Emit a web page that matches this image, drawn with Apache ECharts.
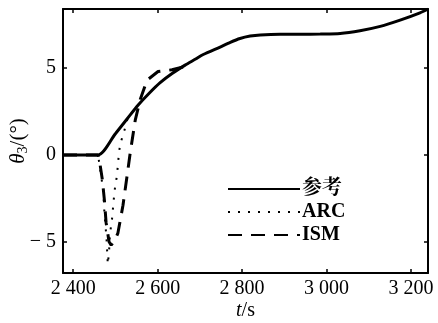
<!DOCTYPE html>
<html>
<head>
<meta charset="utf-8">
<script src="https://cdn.jsdelivr.net/npm/echarts@6/dist/echarts.min.js"></script>
<style>html,body{margin:0;padding:0;background:#fff}#c{width:438px;height:323px}</style>
</head>
<body>
<div id="c"></div>
<script>
// Reference curve
const tRef = [2376, 2459, 2500, 2528, 2554, 2580, 2606, 2635, 2665, 2690, 2708, 2748, 2772, 2795, 2819, 2843, 2890, 2937, 2985, 3032, 3079, 3127, 3174, 3221, 3240];
const vRef = [0, 0, 1.22, 2.08, 2.87, 3.55, 4.16, 4.7, 5.17, 5.52, 5.78, 6.21, 6.48, 6.7, 6.84, 6.91, 6.95, 6.95, 6.96, 6.99, 7.15, 7.4, 7.76, 8.18, 8.4];
// ARC
const tArc = [2376, 2459, 2471, 2474, 2479, 2482, 2485, 2487, 2492, 2496, 2499, 2503, 2506, 2508, 2511, 2518, 2523, 2530];
const vArc = [0, 0, -2.0, -3.3, -4.8, -6.3, -5.6, -4.6, -3.7, -2.6, -1.9, -1.3, -0.6, 0, 0.57, 1.15, 1.55, 2.2];
// ISM
const tIsm = [2376, 2459, 2464, 2469, 2474, 2478, 2485, 2490, 2499, 2506, 2518, 2528, 2535, 2547, 2559, 2575, 2601, 2634, 2658, 2677];
const vIsm = [0, 0, -0.6, -1.4, -2.6, -3.9, -5.0, -5.2, -4.9, -4.5, -2.9, -1.15, 0.1, 2.0, 3.2, 4.3, 4.8, 4.9, 5.05, 5.3];
const xTicks = [2400, 2600, 2800, 3000, 3200];
const yTicks = [-5, 0, 5];
const names = ['参考', 'ARC', 'ISM'];

const pair = (t, v) => t.map((x, i) => [x, v[i]]);
const serif = 'Liberation Serif, Noto Serif CJK SC, Noto Sans CJK SC, serif';
const fmtX = v => { const s = String(v); return s.slice(0, s.length - 3) + ' ' + s.slice(-3); };
const fmtY = v => v < 0 ? '\u2212 ' + Math.abs(v) : String(v);

const chart = echarts.init(document.getElementById('c'), null, {renderer: 'canvas'});
const axisCommon = {
  axisLine: {show: true, onZero: false, lineStyle: {color: '#000', width: 2}},
  splitLine: {show: false},
  nameMoveOverlap: false
};
chart.setOption({
  animation: false,
  backgroundColor: '#fff',
  grid: {left: 63, top: 9, right: 10, bottom: 50, show: false, containLabel: false, outerBoundsMode: 'none'},
  xAxis: [
    Object.assign({
      type: 'value', min: 2376, max: 3240, position: 'bottom',
      axisTick: {inside: true, length: 4, customValues: xTicks, lineStyle: {color: '#000', width: 1.5}},
      axisLabel: {customValues: xTicks, formatter: fmtX, color: '#000', fontFamily: serif, fontSize: 20, margin: 6},
      name: '{i|t}{n|/s}', nameLocation: 'middle', nameGap: 28,
      nameTextStyle: {rich: {
        i: {fontFamily: serif, fontStyle: 'italic', fontSize: 20, color: '#000'},
        n: {fontFamily: serif, fontSize: 20, color: '#000'}
      }}
    }, axisCommon),
    Object.assign({
      type: 'value', min: 2376, max: 3240, position: 'top',
      axisTick: {inside: true, length: 4, customValues: xTicks, lineStyle: {color: '#000', width: 1.5}},
      axisLabel: {show: false}
    }, axisCommon)
  ],
  yAxis: [
    Object.assign({
      type: 'value', min: -6.8, max: 8.4, position: 'left',
      axisTick: {inside: true, length: 4, customValues: yTicks, lineStyle: {color: '#000', width: 1.5}},
      axisLabel: {customValues: yTicks, formatter: fmtY, color: '#000', fontFamily: serif, fontSize: 20, margin: 7},
      name: '{i|θ}{s|3}{n|/(°)}', nameLocation: 'middle', nameRotate: 90, nameGap: 33,
      nameTextStyle: {rich: {
        i: {fontFamily: serif, fontStyle: 'italic', fontSize: 21, color: '#000'},
        s: {fontFamily: serif, fontSize: 14, color: '#000', padding: [9, 0, 0, 0]},
        n: {fontFamily: serif, fontSize: 21, color: '#000'}
      }}
    }, axisCommon),
    Object.assign({
      type: 'value', min: -6.8, max: 8.4, position: 'right',
      axisTick: {inside: true, length: 4, customValues: yTicks, lineStyle: {color: '#000', width: 1.5}},
      axisLabel: {show: false}
    }, axisCommon)
  ],
  legend: {
    orient: 'vertical', left: 222, top: 174, itemWidth: 72, itemHeight: 14, itemGap: 3,
    data: names,
    itemStyle: {opacity: 0},
    textStyle: {fontFamily: serif, fontSize: 20, fontWeight: 'bold', color: '#000', padding: [0, 0, 0, -3], lineHeight: 20}
  },
  series: [
    {name: names[0], type: 'line', data: pair(tRef, vRef), symbol: 'none', smooth: 0.25,
     lineStyle: {color: '#000', width: 3}, itemStyle: {color: '#000'}, z: 3},
    {name: names[1], type: 'line', data: pair(tArc, vArc), symbol: 'none', smooth: false,
     lineStyle: {color: '#000', width: 2, type: [2, 8]}, itemStyle: {color: '#000'}, z: 2},
    {name: names[2], type: 'line', data: pair(tIsm, vIsm), symbol: 'none', smooth: false,
     lineStyle: {color: '#000', width: 3, type: [14, 9]}, itemStyle: {color: '#000'}, z: 2}
  ]
});
</script>
</body>
</html>
